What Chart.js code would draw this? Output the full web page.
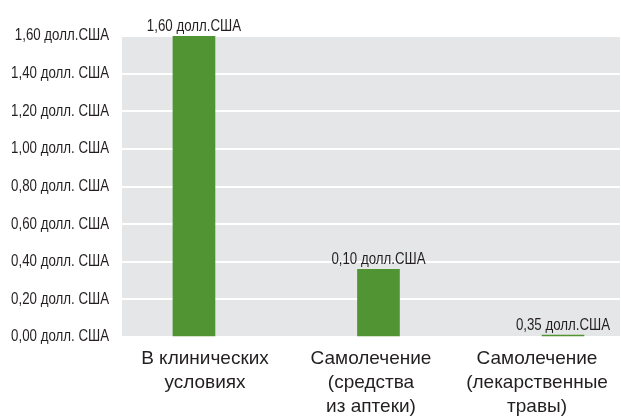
<!DOCTYPE html>
<html>
<head>
<meta charset="utf-8">
<script src="https://cdn.jsdelivr.net/npm/chart.js@4"></script>
<style>
  html, body { margin: 0; padding: 0; background: #fff; overflow: hidden; }
  #wrap { width: 621px; height: 419px; }
</style>
</head>
<body>
<div id="wrap"><canvas id="chart" width="621" height="419"></canvas></div>
<script>
  // ── data ────────────────────────────────────────────────────────────────
  const categories = [
    ['В клинических', 'условиях'],
    ['Самолечение', '(средства', 'из аптеки)'],
    ['Самолечение', '(лекарственные', 'травы)']
  ];
  const barSlots = [0, 1, 2];
  const costValues = [1.60, 0.36, 0.01];
  const valueLabels = ['1,60 долл.США', '0,10 долл.США', '0,35 долл.США'];
  const yTickValues = [0, 0.2, 0.4, 0.6, 0.8, 1.0, 1.2, 1.4, 1.6];
  const yTickLabels = [
    '0,00 долл. США', '0,20 долл. США', '0,40 долл. США', '0,60 долл. США',
    '0,80 долл. США', '1,00 долл. США', '1,20 долл. США', '1,40 долл. США',
    '1,60 долл.США'
  ];

  // ── styling ─────────────────────────────────────────────────────────────
  const SANS = "'Liberation Sans', Arial, sans-serif";
  const SQUEEZE = 0.83;            // no narrow face installed, so squeeze Liberation Sans
  const TEXT = '#231f20';
  const GREEN = '#519433';
  const PLOT_BG = '#e5e6e7';

  const plotBackground = {
    id: 'plotBackground',
    beforeDraw(chart) {
      const { ctx, chartArea: a } = chart;
      ctx.save();
      ctx.fillStyle = PLOT_BG;
      ctx.fillRect(a.left, a.top, a.right - a.left, a.bottom - a.top);
      ctx.restore();
    }
  };

  const valueText = {
    id: 'valueText',
    afterDatasetsDraw(chart) {
      const { ctx } = chart;
      const meta = chart.getDatasetMeta(0);
      meta.data.forEach((bar, i) => {
        ctx.save();
        ctx.translate(bar.x, bar.y - 5.5);
        ctx.scale(SQUEEZE, 1);
        ctx.font = '16px ' + SANS;
        ctx.fillStyle = TEXT;
        ctx.textAlign = 'center';
        ctx.textBaseline = 'alphabetic';
        ctx.fillText(valueLabels[i], 0, 0);
        ctx.restore();
      });
    }
  };

  // squeeze the y tick labels around their right edge
  function narrowLabels(scale) {
    if (scale._narrow) return;
    const draw = scale.drawLabels.bind(scale);
    scale._computeLabelArea = () => undefined;   // no clip, the squeeze keeps them inside
    scale.drawLabels = function (area) {
      const ctx = this.ctx;
      const edge = this.right - this.options.ticks.padding;
      ctx.save();
      ctx.translate(edge, 0);
      ctx.scale(SQUEEZE, 1);
      ctx.translate(-edge, 0);
      draw(area);
      ctx.restore();
    };
    scale._narrow = true;
  }

  const chart = new Chart(document.getElementById('chart'), {
    type: 'bar',
    data: {
      labels: categories,
      datasets: [{
        data: barSlots.map((s, i) => ({ x: s, y: costValues[i] })),
        xAxisID: 'xb',
        backgroundColor: GREEN,
        borderWidth: 0,
        barThickness: 42
      }]
    },
    options: {
      responsive: false,
      animation: false,
      layout: { padding: { top: 36, right: 1, left: 0, bottom: 0 } },
      plugins: { legend: { display: false }, tooltip: { enabled: false } },
      scales: {
        x: {
          type: 'category',
          position: 'bottom',
          grid: { display: false },
          border: { display: false },
          ticks: {
            color: TEXT,
            font: { family: SANS, size: 19, lineHeight: 1.26 },
            padding: 2,
            maxRotation: 0,
            autoSkip: false
          },
          afterFit(scale) { scale.height = 82; }
        },
        xb: {
          type: 'linear',
          position: 'bottom',
          offset: false,
          min: -0.39,
          max: 2.309,
          grid: { display: false },
          border: { display: false },
          ticks: { display: false },
          afterFit(scale) { scale.height = 0; }
        },
        y: {
          min: 0,
          max: 1.6,
          afterBuildTicks(scale) {
            scale.ticks = yTickValues.map(v => ({ value: v }));
          },
          grid: { color: '#ffffff', lineWidth: 2, drawTicks: false },
          border: { display: false },
          ticks: {
            color: TEXT,
            font: { family: SANS, size: 16 },
            padding: 13,
            callback(value, index) { return yTickLabels[index]; }
          },
          afterFit(scale) {
            scale.width = 122;
            narrowLabels(scale);
          }
        }
      }
    },
    plugins: [plotBackground, valueText]
  });
</script>
</body>
</html>
